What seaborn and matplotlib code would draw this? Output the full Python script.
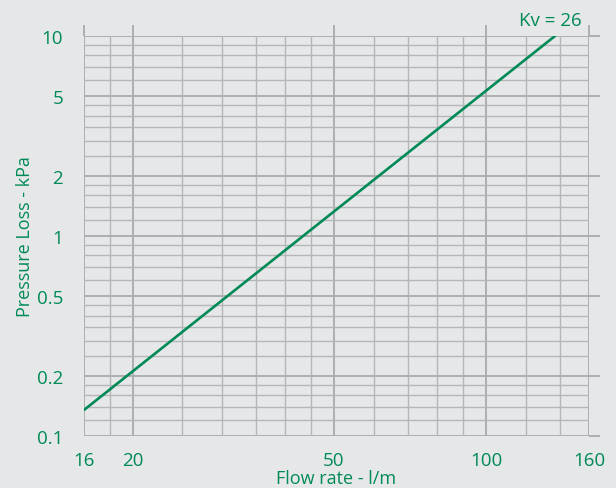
import matplotlib
matplotlib.use("Agg")
import matplotlib.pyplot as plt
import matplotlib.ticker as mticker
import seaborn as sns

# Data (Kv = 26 line)
flow = [16, 137]            # l/m
loss = [0.135, 10]          # kPa

x_major = [16, 20, 50, 100, 160]
x_minor = [18, 25, 30, 35, 40, 45, 60, 70, 80, 90, 120, 140]
y_major = [0.1, 0.2, 0.5, 1, 2, 5, 10]
y_minor = [0.12, 0.14, 0.16, 0.18, 0.25, 0.3, 0.35, 0.4, 0.45,
           0.6, 0.7, 0.8, 0.9, 1.2, 1.4, 1.6, 1.8,
           2.5, 3, 3.5, 4, 4.5, 6, 7, 8, 9]
x_labels = ["16", "20", "50", "100", "160"]
y_labels = ["0.1", "0.2", "0.5", "1", "2", "5", "10"]

bg = "#e6e7e9"
green = "#008a55"
grid_col = "#b5b6b8"

sns.set_style("white", {"axes.facecolor": bg, "figure.facecolor": bg})
plt.rcParams["font.family"] = ["Open Sans", "DejaVu Sans"]

fig = plt.figure(figsize=(6.16, 4.89), dpi=100)
ax = fig.add_axes([0.1364, 0.1063, 0.8198, 0.818])

sns.lineplot(x=flow, y=loss, color=green, linewidth=1.9, ax=ax, zorder=3)

ax.set_xscale("log")
ax.set_yscale("log")
ax.set_xlim(16, 160)
ax.set_ylim(0.1, 10)

ax.xaxis.set_major_locator(mticker.FixedLocator(x_major))
ax.xaxis.set_major_formatter(mticker.FixedFormatter(x_labels))
ax.xaxis.set_minor_locator(mticker.FixedLocator(x_minor))
ax.xaxis.set_minor_formatter(mticker.NullFormatter())
ax.yaxis.set_major_locator(mticker.FixedLocator(y_major))
ax.yaxis.set_major_formatter(mticker.FixedFormatter(y_labels))
ax.yaxis.set_minor_locator(mticker.FixedLocator(y_minor))
ax.yaxis.set_minor_formatter(mticker.NullFormatter())

ax.grid(which="major", color="#adaeb0", linewidth=1.4)
ax.grid(which="minor", color=grid_col, linewidth=1.0)
ax.set_axisbelow(True)

for s in ax.spines.values():
    s.set_visible(False)

ax.tick_params(which="major", direction="out", length=8, width=1.4, color="#adaeb0",
               top=True, right=True, labelsize=13.5, labelcolor=green)
ax.tick_params(axis="y", which="major", pad=7)
ax.tick_params(axis="x", which="major", pad=3)
ax.tick_params(which="minor", length=0)

ax.set_xlabel("Flow rate - l/m", color=green, fontsize=13, labelpad=0)
ax.set_ylabel("Pressure Loss - kPa", color=green, fontsize=13, labelpad=2)

ax.text(0.986, 1.04, "Kv = 26", transform=ax.transAxes, ha="right", va="center",
        color=green, fontsize=13.5)

fig.savefig("out.png", dpi=100, facecolor=bg)
